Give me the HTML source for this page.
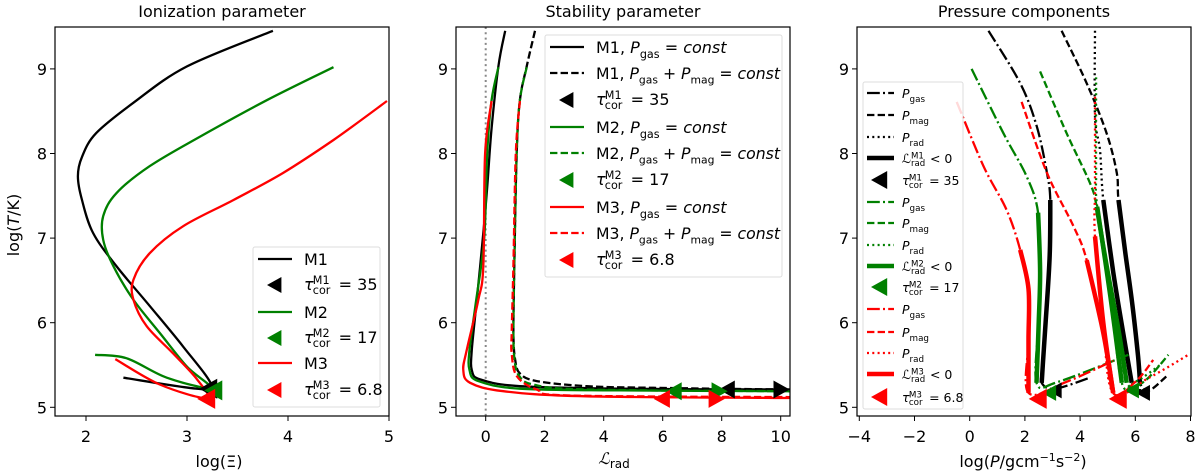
<!DOCTYPE html>
<html><head><meta charset="utf-8">
<style>
html,body{margin:0;padding:0;background:#fff;}
svg{display:block;font-family:"DejaVu Sans","Liberation Sans",sans-serif;}
.tk{font-size:16px;fill:#000;}
.ttl{font-size:16px;fill:#000;}
.lg{font-size:16px;fill:#000;}
.lg3{font-size:12px;fill:#000;}
</style></head>
<body>
<svg id="fig" width="1200" height="474" viewBox="0 0 1200 474" xmlns="http://www.w3.org/2000/svg">
<rect width="1200" height="474" fill="#fff"/>
<text class="ttl" x="222" y="17" text-anchor="middle">Ionization parameter</text>
<text class="ttl" x="623" y="17" text-anchor="middle">Stability parameter</text>
<text class="ttl" x="1024" y="17" text-anchor="middle">Pressure components</text>
<text class="tk" x="219" y="467" text-anchor="middle">log(Ξ)</text>
<text class="tk" transform="translate(19,225) rotate(-90)" text-anchor="middle">log(<tspan font-style="italic">T</tspan>/K)</text>
<text class="tk" x="614" y="464" text-anchor="middle"><tspan font-style="italic" font-family="DejaVu Serif, serif">ℒ</tspan><tspan font-size="12" dy="4">rad</tspan></text>
<text class="tk" x="1023" y="467" text-anchor="middle">log(<tspan font-style="italic">P</tspan>/gcm<tspan font-size="11" dy="-6">−1</tspan><tspan dy="6">s</tspan><tspan font-size="11" dy="-6">−2</tspan><tspan dy="6">)</tspan></text>
<g id="plots"></g>
</svg>
<script>
const p1M1x=[3.85,3.0,2.47,2.1,1.96,1.92,1.96,2.07,2.3,2.63,2.96,3.24,3.1,2.37];
const p1M1y=[9.45,9.03,8.6,8.24,7.96,7.73,7.45,7.06,6.67,6.2,5.72,5.27,5.22,5.35];
const p1M2x=[4.45,3.79,3.13,2.63,2.3,2.17,2.17,2.27,2.47,2.73,3.0,3.23,2.8,2.4,2.09];
const p1M2y=[9.02,8.63,8.2,7.85,7.53,7.26,6.98,6.67,6.27,5.88,5.48,5.23,5.35,5.58,5.62];
const p1M3x=[4.98,4.45,3.95,3.46,2.96,2.63,2.47,2.47,2.6,2.86,3.1,3.19,2.73,2.29];
const p1M3y=[8.62,8.16,7.77,7.45,7.14,6.82,6.51,6.27,5.96,5.64,5.33,5.11,5.27,5.57];
const p1MarkX=[3.22,3.27,3.2];
const p1MarkY=[5.22,5.2,5.1];

const p2M1sx=[0.66,0.43,0.2,0.05,-0.08,-0.3,-0.47,-0.47,-0.19,1.16,4.55,10.3];
const p2M1sy=[9.45,9.03,8.3,7.6,7.06,6.27,5.68,5.44,5.33,5.25,5.22,5.21];
const p2M2sx=[0.43,0.2,0.05,-0.05,-0.35,-0.55,-0.55,-0.25,1.16,4.55,10.3];
const p2M2sy=[9.02,8.63,8.0,7.0,6.2,5.68,5.44,5.31,5.22,5.2,5.19];
const p2M3sx=[0.2,-0.02,-0.08,-0.25,-0.64,-0.76,-0.53,0.6,3.42,10.3];
const p2M3sy=[8.62,8.0,6.67,6.27,5.68,5.44,5.29,5.19,5.13,5.11];
const p2M1dx=[1.67,1.39,1.16,1.05,0.97,0.94,1.0,1.16,1.73,3.42,5.68,10.3];
const p2M1dy=[9.45,9.03,8.63,8.0,6.67,5.88,5.56,5.4,5.31,5.25,5.23,5.21];
const p2M2dx=[1.39,1.16,1.05,0.97,0.94,0.98,1.12,1.6,3.42,10.3];
const p2M2dy=[9.02,8.63,8.0,6.67,5.88,5.56,5.38,5.27,5.21,5.19];
const p2M3dx=[1.16,1.02,0.94,0.88,0.88,1.05,1.73,2.86,10.3];
const p2M3dy=[8.62,8.0,6.67,5.88,5.64,5.37,5.21,5.14,5.12];
const p2MarkX=[8.2,10.0,6.4,7.9,6.0,7.8];
const p2MarkY=[5.21,5.21,5.19,5.19,5.1,5.1];
const p2MarkDir=[-1,1,-1,1,-1,1];

const p3BGx=[0.68,1.83,2.43,2.8,2.92,2.9,2.75,2.65,2.61,3.1,4.36];
const p3BGy=[9.45,8.83,8.32,7.77,7.45,6.8,6.0,5.5,5.29,5.22,5.35];
const p3BMx=[3.33,4.24,4.96,5.33,5.39,5.65,5.9,6.1,6.17,6.5,7.14];
const p3BMy=[9.45,8.83,8.24,7.77,7.45,6.8,6.2,5.6,5.29,5.2,5.37];
const p3BRx=[4.54,4.54,4.72,4.84,5.2,5.55,5.87,6.2];
const p3BRy=[9.45,8.44,8.04,7.45,6.6,5.9,5.29,5.2];
const p3GGx=[0.07,1.22,2.06,2.48,2.55,2.5,2.42,3.2,5.75];
const p3GGy=[9.0,8.24,7.73,7.3,6.6,6.0,5.29,5.3,5.62];
const p3GMx=[2.55,3.51,4.36,4.6,5.0,5.4,5.69,6.3,7.2];
const p3GMy=[8.97,8.24,7.65,7.37,6.6,5.9,5.29,5.3,5.62];
const p3GRx=[4.58,4.58,4.62,5.1,5.51,6.0,6.9];
const p3GRy=[8.9,7.8,7.37,6.3,5.29,5.3,5.5];
const p3RGx=[-0.47,0.5,1.34,1.83,2.13,2.13,2.13,3.5,5.2];
const p3RGy=[8.61,7.85,7.33,6.86,6.4,5.8,5.17,5.3,5.55];
const p3RMx=[1.88,2.8,3.76,4.24,4.84,5.2,6.0,6.65];
const p3RMy=[8.61,7.77,7.14,6.74,5.88,5.17,5.3,5.56];
const p3RRx=[4.54,4.54,4.54,4.84,5.2,6.5,7.92];
const p3RRy=[8.67,7.6,7.02,6.0,5.17,5.35,5.62];
const p3MarkX=[3.1,6.3,2.9,5.9,2.5,5.4];
const p3MarkY=[5.2,5.17,5.17,5.2,5.1,5.1];

const yTicks=[5,6,7,8,9];
const p1XTicks=[2,3,4,5];
const p2XTicks=[0,2,4,6,8,10];
const p3XTicks=[-4,-2,0,2,4,6,8];

const NS="http://www.w3.org/2000/svg";
const G=document.getElementById('plots');
const TOP=27,BOT=416;
function sy(v){return 407.3-(v-5)*84.6;}
const P=[
 {l:55,r:389,sx:v=>86+(v-2)*101},
 {l:456,r:790,sx:v=>485.7+v*29.5},
 {l:857,r:1191,sx:v=>859.3+(v+4)*27.6}
];
const GREEN='#008000',RED='#ff0000',BLACK='#000000';
const LW=2.3;
function mk(tag,attrs){const e=document.createElementNS(NS,tag);for(const k in attrs)e.setAttribute(k,attrs[k]);return e;}
function pathD(pts){
  let d='M'+pts[0][0].toFixed(1)+','+pts[0][1].toFixed(1);
  for(let i=0;i<pts.length-1;i++){
    const p0=pts[Math.max(0,i-1)],p1=pts[i],p2=pts[i+1],p3=pts[Math.min(pts.length-1,i+2)];
    const c1=[p1[0]+(p2[0]-p0[0])/6,p1[1]+(p2[1]-p0[1])/6];
    const c2=[p2[0]-(p3[0]-p1[0])/6,p2[1]-(p3[1]-p1[1])/6];
    d+=' C'+c1[0].toFixed(1)+','+c1[1].toFixed(1)+' '+c2[0].toFixed(1)+','+c2[1].toFixed(1)+' '+p2[0].toFixed(1)+','+p2[1].toFixed(1);
  }
  return d;
}
const clipIds=['c1','c2','c3'];
const defs=mk('defs',{});G.appendChild(defs);
P.forEach((p,i)=>{const c=mk('clipPath',{id:clipIds[i]});c.appendChild(mk('rect',{x:p.l,y:TOP,width:p.r-p.l,height:BOT-TOP}));defs.appendChild(c);});

function curve(pi,xs,ys,color,w,dash,name,from,to){
  const p=P[pi];
  let pts=xs.map((x,i)=>[p.sx(x),sy(ys[i])]);
  if(from!==undefined)pts=pts.slice(from,to+1);
  const e=mk('path',{d:pathD(pts),fill:'none',stroke:color,'stroke-width':w,'stroke-linejoin':'round','clip-path':'url(#'+clipIds[pi]+')'});
  if(dash)e.setAttribute('stroke-dasharray',dash);
  
  
  G.appendChild(e);
}
function tri(cx,cy,color,dir,s,name){
  const pts=[[cx+dir*s,cy],[cx-dir*s*0.8,cy-s],[cx-dir*s*0.8,cy+s]].map(q=>q.join(',')).join(' ');
  const e=mk('polygon',{points:pts,fill:color});
  
  
  G.appendChild(e);
}
function txt(x,y,s,cls,anchor,name){
  const e=mk('text',{x:x,y:y,class:cls,'text-anchor':anchor});e.textContent=s;
  
  
  G.appendChild(e);return e;
}

P.forEach((p,i)=>{
  yTicks.forEach(t=>{
    const y=sy(t);
    G.appendChild(mk('line',{x1:p.l-5,x2:p.l,y1:y,y2:y,stroke:'#000','stroke-width':1}));
    txt(p.l-8,y+6,String(t),'tk','end','y-tick-label');
  });
  const xt=[p1XTicks,p2XTicks,p3XTicks][i];
  xt.forEach(t=>{
    const x=p.sx(t);
    G.appendChild(mk('line',{x1:x,x2:x,y1:BOT,y2:BOT+5,stroke:'#000','stroke-width':1}));
    txt(x,BOT+26,String(t).replace('-','−'),'tk','middle','x-tick-label');
  });
});

curve(0,p1M1x,p1M1y,BLACK,LW,null,'p1-m1-line');
curve(0,p1M2x,p1M2y,GREEN,LW,null,'p1-m2-line');
curve(0,p1M3x,p1M3y,RED,LW,null,'p1-m3-line');
[BLACK,GREEN,RED].forEach((c,i)=>tri(P[0].sx(p1MarkX[i]),sy(p1MarkY[i]),c,-1,10,'p1-marker'));

const zx=P[1].sx(0);
G.appendChild(mk('line',{x1:zx,x2:zx,y1:TOP,y2:BOT,stroke:'#888','stroke-width':2,'stroke-dasharray':'2,3.3'}));
curve(1,p2M1sx,p2M1sy,BLACK,LW,null,'p2-m1-solid');
curve(1,p2M2sx,p2M2sy,GREEN,LW,null,'p2-m2-solid');
curve(1,p2M3sx,p2M3sy,RED,LW,null,'p2-m3-solid');
curve(1,p2M1dx,p2M1dy,BLACK,LW,'7.4,3.2','p2-m1-dashed');
curve(1,p2M2dx,p2M2dy,GREEN,LW,'7.4,3.2','p2-m2-dashed');
curve(1,p2M3dx,p2M3dy,RED,LW,'7.4,3.2','p2-m3-dashed');
const p2c=[BLACK,BLACK,GREEN,GREEN,RED,RED];
p2MarkX.forEach((x,i)=>tri(P[1].sx(x),sy(p2MarkY[i]),p2c[i],p2MarkDir[i],9,'p2-marker'));

const DD='12.8,3.2,2,3.2',DA='7.4,3.2',DO='2,3.3';
function s3(xs,ys,c,dash,a,b,name){
  curve(2,xs,ys,c,LW,dash,name);
  curve(2,xs,ys,c,4.5,null,name+'-thick',a,b);
}
s3(p3BGx,p3BGy,BLACK,DD,4,8,'p3-m1-pgas');
s3(p3BMx,p3BMy,BLACK,DA,4,8,'p3-m1-pmag');
s3(p3BRx,p3BRy,BLACK,DO,3,6,'p3-m1-prad');
s3(p3GGx,p3GGy,GREEN,DD,3,6,'p3-m2-pgas');
s3(p3GMx,p3GMy,GREEN,DA,3,6,'p3-m2-pmag');
s3(p3GRx,p3GRy,GREEN,DO,2,4,'p3-m2-prad');
s3(p3RGx,p3RGy,RED,DD,3,6,'p3-m3-pgas');
s3(p3RMx,p3RMy,RED,DA,3,5,'p3-m3-pmag');
s3(p3RRx,p3RRy,RED,DO,2,4,'p3-m3-prad');
const p3c=[BLACK,BLACK,GREEN,GREEN,RED,RED];
p3MarkX.forEach((x,i)=>tri(P[2].sx(x),sy(p3MarkY[i]),p3c[i],-1,i>=4?10:8,'p3-marker'));

P.forEach(p=>G.appendChild(mk('rect',{x:p.l,y:TOP,width:p.r-p.l,height:BOT-TOP,fill:'none',stroke:'#000','stroke-width':1.2})));

function legBox(x,y,w,h,name){
  const e=mk('rect',{x:x,y:y,width:w,height:h,fill:'#fff','fill-opacity':0.85,stroke:'#ddd','stroke-width':1,rx:2});
  
  
  G.appendChild(e);
}
function legLine(x1,x2,y,c,w,dash){const e=mk('line',{x1:x1,x2:x2,y1:y,y2:y,stroke:c,'stroke-width':w});if(dash)e.setAttribute('stroke-dasharray',dash);G.appendChild(e);}
function tauText(x,y,sup,val,fs,name){
  const e=mk('text',{x:x,y:y,'font-size':fs});
  
  
  const sf=fs*0.7;
  e.innerHTML='<tspan font-style="italic">τ</tspan><tspan x="'+(x+fs*0.55)+'" y="'+(y-fs*0.38)+'" font-size="'+sf+'">'+sup+'</tspan><tspan x="'+(x+fs*0.55)+'" y="'+(y+fs*0.25)+'" font-size="'+sf+'">cor</tspan><tspan x="'+(x+fs*1.85)+'" y="'+y+'"> = '+val+'</tspan>';
  G.appendChild(e);
}
function pText(x,y,sub,fs,name,rest){
  const e=mk('text',{x:x,y:y,'font-size':fs});
  
  
  e.innerHTML=(rest&&rest.pre?rest.pre:'')+'<tspan font-style="italic">P</tspan><tspan font-size="'+(fs*0.7)+'" dy="'+(fs*0.3)+'">'+sub+'</tspan><tspan dy="'+(-fs*0.3)+'">'+(rest&&rest.post?rest.post:'')+'</tspan>';
  G.appendChild(e);
}
legBox(253,247,127,160,'p1-legend');
const l1y=[259,285,312,338,363,390];
const l1c=[BLACK,GREEN,RED];
[0,1,2].forEach(i=>{
  legLine(258,292,l1y[2*i],l1c[i],LW);
  txt(304,l1y[2*i]+6,'M'+(i+1),'lg','start','p1-legend-label');
  tri(275,l1y[2*i+1],l1c[i],-1,8,'p1-legend-marker');
  tauText(304,l1y[2*i+1]+5,'M'+(i+1),['35','17','6.8'][i],16,'p1-legend-tau');
});
legBox(545,35,237,242,'p2-legend');
const l2y=[47,73,100,127,153,180,207,233,260];
[0,1,2].forEach(i=>{
  const c=l1c[i];
  legLine(550,584,l2y[3*i],c,LW);
  pText(596,l2y[3*i]+6,'gas',16,'p2-legend-solid',{pre:'M'+(i+1)+', ',post:' = <tspan font-style="italic">const</tspan>'});
  legLine(550,584,l2y[3*i+1],c,LW,'7.4,3.2');
  const e=mk('text',{x:596,y:l2y[3*i+1]+6,'font-size':16,textLength:184,lengthAdjust:'spacingAndGlyphs'});
  
  
  e.innerHTML='M'+(i+1)+', <tspan font-style="italic">P</tspan><tspan font-size="11" dy="4.5">gas</tspan><tspan dy="-4.5"> + </tspan><tspan font-style="italic">P</tspan><tspan font-size="11" dy="4.5">mag</tspan><tspan dy="-4.5"> = </tspan><tspan font-style="italic">const</tspan>';
  G.appendChild(e);
  tri(567,l2y[3*i+2],c,-1,8,'p2-legend-marker');
  tauText(596,l2y[3*i+2]+5,'M'+(i+1),['35','17','6.8'][i],16,'p2-legend-tau');
});
legBox(863,82,100,327,'p3-legend');
const l3y=[93,115,137,158,180,202,223,245,266,287,309,332,353,374,397];
[0,1,2].forEach(i=>{
  const c=l1c[i],b=5*i;
  legLine(867,894,l3y[b],c,LW,DD);
  pText(902,l3y[b]+5,'gas',12.5,'p3-legend-pgas');
  legLine(867,894,l3y[b+1],c,LW,DA);
  pText(902,l3y[b+1]+5,'mag',12.5,'p3-legend-pmag');
  legLine(867,894,l3y[b+2],c,LW,DO);
  pText(902,l3y[b+2]+5,'rad',12.5,'p3-legend-prad');
  legLine(867,894,l3y[b+3],c,4.5);
  const e=mk('text',{x:902,y:l3y[b+3]+5,'font-size':12.5});
  
  
  e.innerHTML='<tspan font-style="italic">ℒ</tspan><tspan x="911" y="'+(l3y[b+3]+0.5)+'" font-size="8.6">M'+(i+1)+'</tspan><tspan x="911" y="'+(l3y[b+3]+8)+'" font-size="8.6">rad</tspan><tspan x="926" y="'+(l3y[b+3]+5)+'"> &lt; 0</tspan>';
  G.appendChild(e);
  tri(880,l3y[b+4],c,-1,9,'p3-legend-marker');
  tauText(902,l3y[b+4]+5,'M'+(i+1),['35','17','6.8'][i],12.5,'p3-legend-tau');
});
</script>
</body></html>
